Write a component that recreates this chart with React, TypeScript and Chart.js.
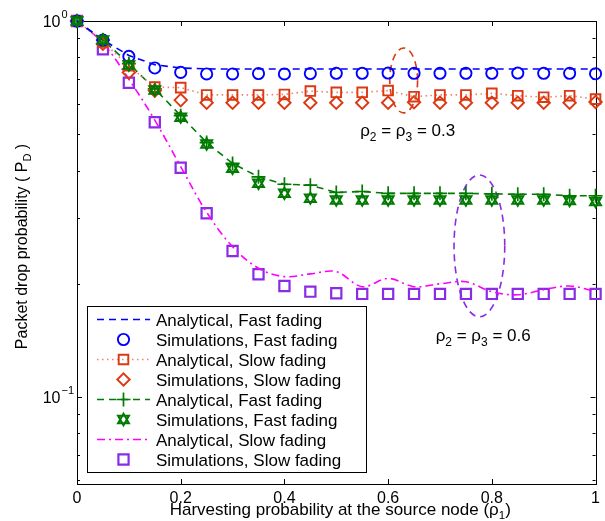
import React, { useEffect, useRef } from 'react';
import { Chart, registerables } from 'chart.js';

Chart.register(...registerables);

// ---------------- data ----------------
const rho1 = [0, 0.05, 0.1, 0.15, 0.2, 0.25, 0.3, 0.35, 0.4, 0.45, 0.5, 0.55, 0.6, 0.65, 0.7, 0.75, 0.8, 0.85, 0.9, 0.95, 1];

// rho2 = rho3 = 0.3
const analyticalFast03 = [1.0, 0.89, 0.81, 0.765, 0.75, 0.746, 0.745, 0.745, 0.745, 0.745, 0.745, 0.745, 0.745, 0.745, 0.745, 0.745, 0.745, 0.745, 0.745, 0.745, 0.745];
const simulationsFast03 = [1.0, 0.89, 0.805, 0.75, 0.73, 0.723, 0.723, 0.725, 0.723, 0.725, 0.726, 0.726, 0.727, 0.726, 0.726, 0.726, 0.726, 0.727, 0.726, 0.726, 0.724];
const analyticalSlow03 = [1.0, 0.88, 0.76, 0.667, 0.665, 0.636, 0.636, 0.636, 0.638, 0.651, 0.646, 0.646, 0.653, 0.629, 0.636, 0.636, 0.642, 0.633, 0.627, 0.633, 0.62];
const simulationsSlow03 = [1.0, 0.87, 0.73, 0.653, 0.616, 0.606, 0.606, 0.606, 0.606, 0.606, 0.606, 0.606, 0.606, 0.608, 0.606, 0.606, 0.606, 0.606, 0.606, 0.606, 0.609];

// rho2 = rho3 = 0.6
const analyticalFast06 = [1.0, 0.89, 0.77, 0.66, 0.56, 0.475, 0.418, 0.385, 0.368, 0.366, 0.35, 0.352, 0.348, 0.348, 0.348, 0.348, 0.347, 0.346, 0.346, 0.343, 0.343];
const simulationsFast06 = [1.0, 0.89, 0.764, 0.655, 0.555, 0.471, 0.406, 0.37, 0.348, 0.338, 0.334, 0.334, 0.334, 0.334, 0.334, 0.334, 0.334, 0.334, 0.334, 0.333, 0.331];
const analyticalSlow06 = [1.0, 0.874, 0.70, 0.545, 0.41, 0.31, 0.251, 0.22, 0.209, 0.2125, 0.2155, 0.1965, 0.2067, 0.1965, 0.2, 0.2025, 0.1906, 0.187, 0.193, 0.1973, 0.191];
const simulationsSlow06 = [1.0, 0.841, 0.685, 0.538, 0.407, 0.308, 0.2445, 0.212, 0.1973, 0.1906, 0.1887, 0.188, 0.188, 0.188, 0.188, 0.188, 0.188, 0.188, 0.188, 0.188, 0.188];

// axes
const xMin = 0;
const xMax = 1;
const yMin = 0.0587;
const yMax = 1;
const xTicks = [0, 0.2, 0.4, 0.6, 0.8, 1];
const xTickLabels = ['0', '0.2', '0.4', '0.6', '0.8', '1'];
const yMajorTicks = [0.1, 1];
const yMajorExponents = ['\u22121', '0'];
const yMinorTicks = [0.06, 0.07, 0.08, 0.09, 0.2, 0.3, 0.4, 0.5, 0.6, 0.7, 0.8, 0.9];

const xTitleParts = ['Harvesting probability at the source node (\u03C1', '1', ')'];
const yTitleParts = ['Packet drop probability ( P', 'D', ' )'];

const legendLabels = [
  'Analytical, Fast fading',
  'Simulations, Fast fading',
  'Analytical, Slow fading',
  'Simulations, Slow fading',
  'Analytical, Fast fading',
  'Simulations, Fast fading',
  'Analytical, Slow fading',
  'Simulations, Slow fading',
];

// annotations (data coordinates): ellipse centre x, centre y, half width (x units), half height (decades)
const ellipseCentersX = [0.63, 0.776];
const ellipseCentersY = [0.695, 0.2523];
const ellipseHalfWidths = [0.0268, 0.0489];
const ellipseHalfDecades = [0.0864, 0.1887];
const noteTexts = [
  ['\u03C1', '2', ' = \u03C1', '3', ' = 0.3'],
  ['\u03C1', '2', ' = \u03C1', '3', ' = 0.6'],
];
const noteX = [0.546, 0.6916];
const noteY = [0.495, 0.1411];

// ---------------- styles ----------------
const FONT = '"Liberation Sans", Arial, Helvetica, sans-serif';
const BLUE = '#0000ff';
const RED = '#dc3812';
const RED_LINE = '#ee7f68';
const GREEN = '#007a00';
const MAGENTA = '#ff00ff';
const PURPLE = '#8a2be6';

type SeriesStyle = {
  color: string;
  lineColor: string;
  dash: number[];
  line: boolean;
  marker: string | null; // 'circle' | 'square' | 'diamond' | 'plus' | 'hexagram'
  size: number;
  markerWidth: number;
  tension: number;
};

const seriesStyles: SeriesStyle[] = [
  { color: BLUE, lineColor: BLUE, dash: [7, 5], line: true, marker: null, size: 0, markerWidth: 0, tension: 0 },
  { color: BLUE, lineColor: BLUE, dash: [], line: false, marker: 'circle', size: 5.6, markerWidth: 1.9, tension: 0 },
  { color: RED, lineColor: RED_LINE, dash: [1.5, 3.5], line: true, marker: 'square', size: 6.8, markerWidth: 1.9, tension: 0 },
  { color: RED, lineColor: RED, dash: [], line: false, marker: 'diamond', size: 6.2, markerWidth: 1.9, tension: 0 },
  { color: GREEN, lineColor: GREEN, dash: [7, 5], line: true, marker: 'plus', size: 7, markerWidth: 1.7, tension: 0 },
  { color: GREEN, lineColor: GREEN, dash: [], line: false, marker: 'hexagram', size: 6.3, markerWidth: 2, tension: 0 },
  { color: MAGENTA, lineColor: MAGENTA, dash: [8, 4, 2, 4], line: true, marker: null, size: 0, markerWidth: 0, tension: 0.35 },
  { color: PURPLE, lineColor: PURPLE, dash: [], line: false, marker: 'square', size: 7.2, markerWidth: 2.2, tension: 0 },
];

const chartPointStyle: Record<string, string> = {
  circle: 'circle',
  square: 'rect',
  diamond: 'rectRot',
  plus: 'cross',
};

const seriesValues = [
  analyticalFast03,
  simulationsFast03,
  analyticalSlow03,
  simulationsSlow03,
  analyticalFast06,
  simulationsFast06,
  analyticalSlow06,
  simulationsSlow06,
];

function drawMarker(ctx: CanvasRenderingContext2D, st: SeriesStyle, x: number, y: number) {
  const r = st.size;
  ctx.save();
  ctx.strokeStyle = st.color;
  ctx.lineWidth = st.markerWidth;
  ctx.setLineDash([]);
  ctx.beginPath();
  if (st.marker === 'circle') {
    ctx.arc(x, y, r, 0, Math.PI * 2);
  } else if (st.marker === 'square') {
    const h = r * Math.SQRT1_2;
    ctx.rect(x - h, y - h, 2 * h, 2 * h);
  } else if (st.marker === 'diamond') {
    ctx.moveTo(x, y - r);
    ctx.lineTo(x + r, y);
    ctx.lineTo(x, y + r);
    ctx.lineTo(x - r, y);
    ctx.closePath();
  } else if (st.marker === 'plus') {
    ctx.moveTo(x, y - r);
    ctx.lineTo(x, y + r);
    ctx.moveTo(x - r, y);
    ctx.lineTo(x + r, y);
  } else if (st.marker === 'hexagram') {
    for (let k = 0; k < 2; k++) {
      const off = k === 0 ? -Math.PI / 2 : Math.PI / 2;
      const dy = k === 0 ? 0.6 : -0.6;
      for (let i = 0; i < 3; i++) {
        const a = off + (i * 2 * Math.PI) / 3;
        const px = x + r * Math.cos(a);
        const py = y + r * Math.sin(a) + dy;
        if (i === 0) ctx.moveTo(px, py);
        else ctx.lineTo(px, py);
      }
      ctx.closePath();
    }
  }
  ctx.stroke();
  ctx.restore();
}

function drawRich(ctx: CanvasRenderingContext2D, parts: string[], x: number, y: number, size: number, subSize: number, subShift: number, align: 'left' | 'center') {
  const widths = parts.map((p, i) => {
    ctx.font = `${i % 2 === 1 ? subSize : size}px ${FONT}`;
    return ctx.measureText(p).width;
  });
  const total = widths.reduce((a, b) => a + b, 0);
  let cx = align === 'center' ? x - total / 2 : x;
  ctx.textAlign = 'left';
  ctx.textBaseline = 'alphabetic';
  parts.forEach((p, i) => {
    const sub = i % 2 === 1;
    ctx.font = `${sub ? subSize : size}px ${FONT}`;
    ctx.fillText(p, cx, sub ? y + subShift : y);
    cx += widths[i];
  });
}

const matlabPlugin = {
  id: 'matlabDecor',
  beforeDatasetsDraw(chart: any) {
    const ctx: CanvasRenderingContext2D = chart.ctx;
    const { left, right, top, bottom } = chart.chartArea;
    const xs = chart.scales.x;
    const ys = chart.scales.y;
    ctx.save();
    ctx.strokeStyle = '#000';
    ctx.lineWidth = 1;
    ctx.strokeRect(Math.round(left) + 0.5, Math.round(top) + 0.5, Math.round(right - left), Math.round(bottom - top));
    ctx.beginPath();
    xTicks.forEach((v) => {
      const px = Math.round(xs.getPixelForValue(v)) + 0.5;
      ctx.moveTo(px, bottom);
      ctx.lineTo(px, bottom - 5);
      ctx.moveTo(px, top);
      ctx.lineTo(px, top + 5);
    });
    yMajorTicks.forEach((v) => {
      const py = Math.round(ys.getPixelForValue(v)) + 0.5;
      ctx.moveTo(left, py);
      ctx.lineTo(left + 5, py);
      ctx.moveTo(right, py);
      ctx.lineTo(right - 5, py);
    });
    yMinorTicks.forEach((v) => {
      const py = Math.round(ys.getPixelForValue(v)) + 0.5;
      ctx.moveTo(left, py);
      ctx.lineTo(left + 3, py);
      ctx.moveTo(right, py);
      ctx.lineTo(right - 3, py);
    });
    ctx.stroke();

    // y tick labels 10^n
    ctx.fillStyle = '#000';
    yMajorTicks.forEach((v, i) => {
      const py = ys.getPixelForValue(v);
      ctx.font = `16px ${FONT}`;
      ctx.textAlign = 'right';
      ctx.textBaseline = 'alphabetic';
      ctx.fillText('10', left - 16.5, py + 6);
      ctx.font = `11px ${FONT}`;
      ctx.textAlign = 'left';
      ctx.fillText(yMajorExponents[i], left - 15.5, py - 3);
    });

    // x title
    drawRich(ctx, xTitleParts, (left + right) / 2 + 4, bottom + 31, 17, 11.5, 4, 'center');

    // y title (rotated)
    ctx.save();
    ctx.translate(27, (top + bottom) / 2 - 6);
    ctx.rotate(-Math.PI / 2);
    drawRich(ctx, yTitleParts, 0, 0, 16, 11, 4, 'center');
    ctx.restore();

    // ellipses
    ctx.lineWidth = 1.6;
    ctx.setLineDash([7, 5]);
    const ellipseColors = [RED, PURPLE];
    ellipseCentersX.forEach((cxv, i) => {
      const cx = xs.getPixelForValue(cxv);
      const cy = ys.getPixelForValue(ellipseCentersY[i]);
      const rx = xs.getPixelForValue(cxv + ellipseHalfWidths[i]) - cx;
      const ry = ys.getPixelForValue(ellipseCentersY[i]) - ys.getPixelForValue(ellipseCentersY[i] * Math.pow(10, ellipseHalfDecades[i]));
      ctx.strokeStyle = ellipseColors[i];
      ctx.beginPath();
      ctx.ellipse(cx, cy, rx, ry, 0, 0, Math.PI * 2);
      ctx.stroke();
    });
    ctx.setLineDash([]);

    // notes
    ctx.fillStyle = '#000';
    noteTexts.forEach((parts, i) => {
      drawRich(ctx, parts, xs.getPixelForValue(noteX[i]), ys.getPixelForValue(noteY[i]), 17, 12, 5, 'left');
    });
    ctx.restore();
  },
  afterDatasetsDraw(chart: any) {
    // hexagram markers, placed at the library-computed point positions
    const ctx: CanvasRenderingContext2D = chart.ctx;
    seriesStyles.forEach((st, i) => {
      if (st.marker !== 'hexagram') return;
      const meta = chart.getDatasetMeta(i);
      meta.data.forEach((pt: any) => drawMarker(ctx, st, pt.x, pt.y));
    });
  },
  afterDraw(chart: any) {
    const ctx: CanvasRenderingContext2D = chart.ctx;
    const { left } = chart.chartArea;
    const bx = left + 10;
    const by = 306;
    const bw = 279;
    const bh = 166;
    ctx.save();
    ctx.fillStyle = '#fff';
    ctx.fillRect(bx, by, bw, bh);
    ctx.strokeStyle = '#000';
    ctx.lineWidth = 1;
    ctx.strokeRect(Math.round(bx) + 0.5, by + 0.5, bw, bh);
    legendLabels.forEach((label, i) => {
      const st = seriesStyles[i];
      const ry = by + 13.5 + 20 * i;
      const x0 = bx + 10;
      const x1 = bx + 63;
      if (st.line) {
        ctx.strokeStyle = st.lineColor;
        ctx.lineWidth = 1.6;
        ctx.setLineDash(st.dash);
        ctx.beginPath();
        ctx.moveTo(x0, ry);
        ctx.lineTo(x1, ry);
        ctx.stroke();
        ctx.setLineDash([]);
      }
      if (st.marker) drawMarker(ctx, st, (x0 + x1) / 2, ry);
      ctx.fillStyle = '#000';
      ctx.font = `17px ${FONT}`;
      ctx.textAlign = 'left';
      ctx.textBaseline = 'alphabetic';
      ctx.fillText(label, bx + 69, ry + 6.3);
    });
    ctx.restore();
  },
};

export default function App() {
  const ref = useRef<HTMLCanvasElement>(null);
  useEffect(() => {
    const datasets = seriesValues.map((vals, i) => {
      const st = seriesStyles[i];
      const builtIn = st.marker ? chartPointStyle[st.marker] : undefined;
      return {
        label: legendLabels[i],
        data: rho1.map((x, k) => ({ x, y: vals[k] })),
        showLine: st.line,
        borderColor: st.lineColor,
        borderDash: st.dash,
        borderWidth: 1.6,
        tension: st.tension,
        backgroundColor: 'transparent',
        pointStyle: builtIn || 'circle',
        pointRadius: builtIn ? st.size : 0,
        pointHoverRadius: builtIn ? st.size : 0,
        pointBorderColor: st.color,
        pointBackgroundColor: 'transparent',
        pointBorderWidth: st.markerWidth,
        clip: false as any,
      };
    });
    const chart = new Chart(ref.current as HTMLCanvasElement, {
      type: 'line',
      data: { datasets: datasets as any },
      options: {
        responsive: false,
        animation: false,
        devicePixelRatio: 1,
        layout: { padding: { top: 21, right: 6, left: 0, bottom: 0 } },
        plugins: {
          legend: { display: false },
          tooltip: { enabled: false },
        },
        scales: {
          x: {
            type: 'linear',
            min: xMin,
            max: xMax,
            grid: { display: false, drawTicks: false },
            border: { display: false },
            afterBuildTicks: (s: any) => {
              s.ticks = xTicks.map((v) => ({ value: v }));
            },
            ticks: {
              autoSkip: false,
              maxRotation: 0,
              padding: 5,
              color: '#000',
              font: { family: FONT, size: 16 },
              callback: (_v: any, idx: number) => xTickLabels[idx],
            },
            afterFit: (s: any) => {
              s.height = 37;
            },
          },
          y: {
            type: 'logarithmic',
            min: yMin,
            max: yMax,
            grid: { display: false, drawTicks: false },
            border: { display: false },
            ticks: { display: false },
            afterFit: (s: any) => {
              s.width = 77;
            },
          },
        },
      },
      plugins: [matlabPlugin as any],
    });
    return () => chart.destroy();
  }, []);
  return (
    <div style={{ position: 'fixed', left: 0, top: 0, width: 605, height: 521, background: '#fff' }}>
      <canvas ref={ref} width={605} height={521} style={{ display: 'block', width: 605, height: 521 }} />
    </div>
  );
}
